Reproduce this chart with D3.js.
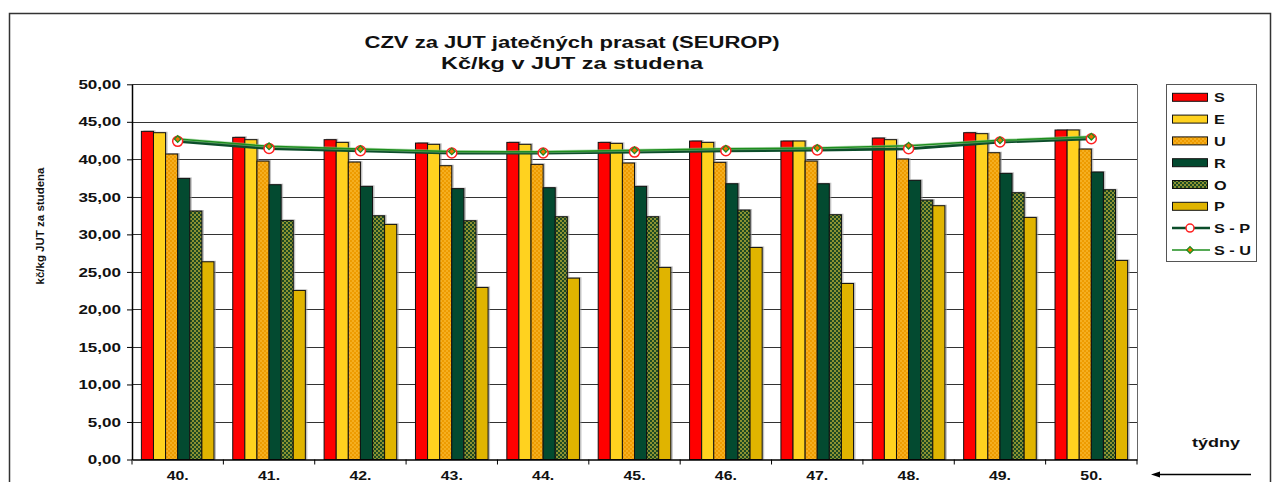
<!DOCTYPE html>
<html><head><meta charset="utf-8">
<script src="https://cdn.jsdelivr.net/npm/d3@7"></script>
<style>
body{margin:0;background:#fff}
svg{display:block;font-family:"Liberation Sans",Arial,sans-serif;font-weight:bold}
</style>
</head><body><svg id="c" width="1279" height="482"></svg>
<script>
const weeks = ["40.","41.","42.","43.","44.","45.","46.","47.","48.","49.","50."];
const seriesNames = ["S","E","U","R","O","P"];
const S = [43.73, 42.93, 42.62, 42.17, 42.26, 42.26, 42.44, 42.44, 42.84, 43.55, 43.91];
const E = [43.55, 42.62, 42.26, 42.00, 42.00, 42.13, 42.26, 42.44, 42.62, 43.42, 43.91];
const U = [40.71, 39.77, 39.64, 39.15, 39.33, 39.51, 39.60, 39.77, 40.04, 40.88, 41.37];
const R = [37.46, 36.62, 36.40, 36.10, 36.22, 36.40, 36.75, 36.75, 37.20, 38.13, 38.31];
const O = [33.11, 31.86, 32.48, 31.82, 32.35, 32.35, 33.24, 32.62, 34.57, 35.55, 35.95];
const P = [26.35, 22.53, 31.33, 22.93, 24.17, 25.60, 28.26, 23.46, 33.82, 32.26, 26.53];
const SP = [42.40, 41.46, 41.15, 40.84, 40.84, 40.97, 41.15, 41.24, 41.42, 42.31, 42.75];
const SU = [42.70, 41.73, 41.37, 41.06, 41.00, 41.20, 41.42, 41.51, 41.82, 42.53, 43.02];
const yTicks = [0,5,10,15,20,25,30,35,40,45,50];
const titleLines = ["CZV za JUT jatečných prasat (SEUROP)","Kč/kg v JUT za studena"];
const yTitle = "kč/kg  JUT za studena";
const xTitle = "týdny";

const barSeries = [S,E,U,R,O,P];
const fills = ["#FF0000","#FFD21F","url(#pU)","#034A30","url(#pO)","#E0B400"];

const svg = d3.select("#c");
const defs = svg.append("defs");
const pU = defs.append("pattern").attr("id","pU").attr("width",4).attr("height",4).attr("patternUnits","userSpaceOnUse");
pU.append("rect").attr("width",4).attr("height",4).attr("fill","#EE9B00");
pU.append("circle").attr("cx",1).attr("cy",1).attr("r",0.8).attr("fill","#FFC84A");
pU.append("circle").attr("cx",3).attr("cy",3).attr("r",0.8).attr("fill","#FFC84A");
const pO = defs.append("pattern").attr("id","pO").attr("width",4).attr("height",4).attr("patternUnits","userSpaceOnUse");
pO.append("rect").attr("width",4).attr("height",4).attr("fill","#1E4A22");
pO.append("circle").attr("cx",1).attr("cy",1).attr("r",0.9).attr("fill","#C0B43A");
pO.append("circle").attr("cx",3).attr("cy",3).attr("r",0.9).attr("fill","#C0B43A");

function stretch(sel, k){
  sel.each(function(){
    const l = this.getComputedTextLength();
    this.setAttribute("textLength", l*k);
    this.setAttribute("lengthAdjust","spacingAndGlyphs");
  });
}
function fitTo(sel, w){
  sel.attr("textLength", w).attr("lengthAdjust","spacingAndGlyphs");
}

// outer frame
svg.append("rect").attr("x",9.5).attr("y",13.5).attr("width",1261).attr("height",490)
  .attr("fill","#fff").attr("stroke","#333").attr("stroke-width",1.5);

const L = 132, Rr = 1137, T = 84.3, B = 459.5;
const x0 = d3.scaleBand().domain(weeks).range([L,Rr]).padding(0);
const x1 = d3.scaleBand().domain(seriesNames).range([0,x0.bandwidth()]).paddingInner(0).paddingOuter(0.775);
const y = d3.scaleLinear().domain([0,50]).range([B,T]);

// gridlines
svg.append("g").selectAll("line").data(yTicks.filter(d=>d>0)).join("line")
  .attr("x1",L).attr("x2",Rr).attr("y1",d=>Math.round(y(d))+0.5).attr("y2",d=>Math.round(y(d))+0.5)
  .attr("stroke","#333").attr("stroke-width",1);
// plot right border
svg.append("line").attr("x1",Rr+0.5).attr("x2",Rr+0.5).attr("y1",Math.round(T)+0.5).attr("y2",B)
  .attr("stroke","#666").attr("stroke-width",1);

// bars
const gBars = svg.append("g");
barSeries.forEach((arr,si)=>{
  const g = gBars.append("g");
  g.selectAll("rect.sh").data(arr).join("rect").attr("class","sh")
    .attr("x",(d,i)=>x0(weeks[i])+x1(seriesNames[si])+2)
    .attr("y",d=>y(d)-1)
    .attr("width",x1.bandwidth())
    .attr("height",d=>B-y(d)+1)
    .attr("fill","#999").attr("opacity",0.6);
});
barSeries.forEach((arr,si)=>{
  const g = gBars.append("g");
  g.selectAll("rect.b").data(arr).join("rect").attr("class","b")
    .attr("x",(d,i)=>x0(weeks[i])+x1(seriesNames[si]))
    .attr("y",d=>y(d))
    .attr("width",x1.bandwidth())
    .attr("height",d=>B-y(d))
    .attr("fill",fills[si]).attr("stroke","#111").attr("stroke-width",1);
});

// lines
const cx = (d,i)=>x0(weeks[i])+x0.bandwidth()/2;
const line = d3.line().x(cx).y(d=>y(d));
svg.append("path").datum(SP).attr("d",line).attr("fill","none").attr("stroke","#0B4D2A").attr("stroke-width",3);
svg.append("path").datum(SU).attr("d",line).attr("fill","none").attr("stroke","#8FCB8F").attr("stroke-width",3).attr("opacity",0.6);
svg.append("path").datum(SU).attr("d",line).attr("fill","none").attr("stroke","#1E8E1E").attr("stroke-width",1.5);
svg.append("g").selectAll("circle").data(SP).join("circle")
  .attr("cx",cx).attr("cy",d=>y(d)).attr("r",5)
  .attr("fill","#fff").attr("stroke","#FF2020").attr("stroke-width",1.5);
svg.append("g").selectAll("path").data(SU).join("path")
  .attr("d",d3.symbol().type(d3.symbolSquare).size(22))
  .attr("transform",(d,i)=>`translate(${cx(d,i)},${y(d)}) rotate(45)`)
  .attr("fill","#F07000").attr("stroke","#1E8E1E").attr("stroke-width",1.3);

// y axis
const yAxis = svg.append("g").attr("transform",`translate(${L},0)`)
  .call(d3.axisLeft(y).tickValues(yTicks).tickSizeInner(5).tickSizeOuter(0).tickPadding(6)
    .tickFormat(d=>d3.format(".2f")(d).replace(".",",")));
yAxis.select(".domain").attr("stroke","#000").attr("stroke-width",1.5);
yAxis.selectAll(".tick line").attr("stroke","#000");
yAxis.selectAll("text").attr("font-size",13).attr("font-family","Liberation Sans, Arial, sans-serif").attr("font-weight","bold").attr("fill","#111");
stretch(yAxis.selectAll("text"),1.31);

// x axis
const xAxis = svg.append("g").attr("transform",`translate(0,${B})`)
  .call(d3.axisBottom(x0).tickSize(0).tickPadding(11));
xAxis.select(".domain").attr("stroke","#000").attr("stroke-width",1.5);
xAxis.selectAll("text").attr("font-size",13).attr("font-family","Liberation Sans, Arial, sans-serif").attr("font-weight","bold").attr("fill","#111");
stretch(xAxis.selectAll("text"),1.22);
const bounds = weeks.map(w=>x0(w)).concat([Rr]);
svg.append("g").selectAll("line").data(bounds).join("line")
  .attr("x1",d=>d).attr("x2",d=>d).attr("y1",B).attr("y2",B+5).attr("stroke","#000");

// titles
const tt = svg.append("g").attr("font-size",16).attr("text-anchor","middle").attr("fill","#111");
tt.append("text").attr("x",572).attr("y",48).text(titleLines[0]).call(fitTo,415);
tt.append("text").attr("x",572).attr("y",69).text(titleLines[1]).call(fitTo,262);

svg.append("text").attr("transform","translate(44,226) rotate(-90)").attr("text-anchor","middle")
  .attr("font-size",11.5).attr("fill","#111").text(yTitle).call(fitTo,117);

svg.append("text").attr("x",1216).attr("y",446.5).attr("text-anchor","middle").attr("font-size",13)
  .attr("fill","#111").text(xTitle).call(fitTo,48);
// arrow
svg.append("line").attr("x1",1158).attr("x2",1251).attr("y1",474.5).attr("y2",474.5).attr("stroke","#000").attr("stroke-width",1.3);
svg.append("path").attr("d","M1151,474.5 L1160,471.5 L1160,477.5 Z").attr("fill","#000");

// legend
const lg = svg.append("g");
lg.append("rect").attr("x",1166.5).attr("y",84.5).attr("width",90).attr("height",177)
  .attr("fill","#fff").attr("stroke","#555").attr("stroke-width",1);
const legNames = seriesNames.concat(["S - P","S - U"]);
legNames.forEach((n,i)=>{
  const cy = 97.3 + i*21.8;
  if(i<6){
    lg.append("rect").attr("x",1172.5).attr("y",cy-4).attr("width",35).attr("height",8)
      .attr("fill",fills[i]).attr("stroke","#111").attr("stroke-width",1);
  } else if(i===6){
    lg.append("line").attr("x1",1172).attr("x2",1210).attr("y1",cy).attr("y2",cy).attr("stroke","#0B4D2A").attr("stroke-width",2.5);
    lg.append("circle").attr("cx",1190).attr("cy",cy).attr("r",4).attr("fill","#fff").attr("stroke","#FF2020").attr("stroke-width",1.5);
  } else {
    lg.append("line").attr("x1",1172).attr("x2",1210).attr("y1",cy).attr("y2",cy).attr("stroke","#1E8E1E").attr("stroke-width",1.5);
    lg.append("path").attr("d",d3.symbol().type(d3.symbolSquare).size(22)).attr("transform",`translate(1190,${cy}) rotate(45)`)
      .attr("fill","#F07000").attr("stroke","#1E8E1E").attr("stroke-width",1.3);
  }
  const t = lg.append("text").attr("x",1214).attr("y",cy+5).attr("font-size",13).attr("fill","#111").text(n);
  stretch(t,1.25);
});
</script>
</body></html>
